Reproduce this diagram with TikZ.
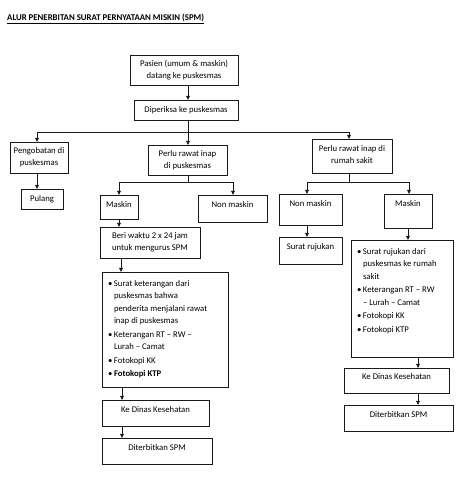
\documentclass[tikz,border=0pt]{standalone}
\usepackage{fontspec}
\setmainfont{Carlito}
\usetikzlibrary{arrows.meta}
\newcommand\mybul{\makebox[6pt][l]{•}}
\newcommand\myind{\hspace*{6pt}}
\newcommand\mkbox[5]{\node[box, minimum width={(#4)-(#2)}, minimum height={(#5)-(#3)}] (#1) at (#2,#3) {};}
\tikzset{
  box/.style={draw=black!90, line width=0.8pt, inner sep=0pt, outer sep=0pt, anchor=north west},
  ln/.style={draw=black!90, line width=0.8pt},
  arr/.style={ln, -{Triangle[length=4.2pt,width=3.8pt]}},
  txt/.style={inner sep=0pt, outer sep=0pt, font=\fontsize{8.7}{12}\selectfont, text=black},
  lst/.style={txt, align=left, anchor=north west, font=\fontsize{8.7}{12.5}\selectfont}
}
\begin{document}
\begin{tikzpicture}[x=1pt,y=-1pt]
\useasboundingbox (0,0) rectangle (474,491);
% title
\node[anchor=base west, inner sep=0pt, font=\bfseries\fontsize{8.8}{10}\selectfont, text=black] (title) at (7,20) {\underline{ALUR PENERBITAN SURAT PERNYATAAN MISKIN (SPM)}};
% boxes
\mkbox{b1}{130}{55}{238}{85}
\mkbox{b2}{134}{100}{238}{120}
\mkbox{b3}{10}{142}{68}{173}
\mkbox{b4}{21}{189}{63}{209}
\mkbox{b5}{148}{145}{227}{175}
\mkbox{b6}{312}{139}{392}{173}
\mkbox{b7}{100}{195}{138}{219}
\mkbox{b8}{198}{195}{267}{222}
\mkbox{b9}{279}{194}{342}{225}
\mkbox{b10}{384}{194}{432}{228}
\mkbox{b11}{100}{227}{200}{258}
\mkbox{b12}{279}{237}{342}{264}
\mkbox{b13}{102}{272}{228}{387}
\mkbox{b14}{351}{240}{453}{357}
\mkbox{b15}{102}{400}{209}{426}
\mkbox{b16}{102}{438}{212}{464}
\mkbox{b17}{344}{368}{449}{393}
\mkbox{b18}{344}{405}{453}{431}
% texts
\node[txt, align=center] (t1) at (b1.center) {Pasien (umum \& maskin)\\datang ke puskesmas};
\node[txt, anchor=base] (t2) at ([yshift=-12.5pt]b2.north) {Diperiksa ke puskesmas};
\node[txt, align=center] (t3) at (b3.center) {Pengobatan di\\puskesmas};
\node[txt, anchor=base] (t4) at ([yshift=-12.5pt]b4.north) {Pulang};
\node[txt, align=center] (t5) at (b5.center) {Perlu rawat inap\\di puskesmas};
\node[txt, align=center] (t6) at ([yshift=1.5pt]b6.center) {Perlu rawat inap di\\rumah sakit};
\node[txt, anchor=base] (t7) at ([yshift=-12.5pt]b7.north) {Maskin};
\node[txt, anchor=base] (t8) at ([yshift=-12.5pt]b8.north) {Non maskin};
\node[txt, anchor=base] (t9) at ([yshift=-12.5pt]b9.north) {Non maskin};
\node[txt, anchor=base] (t10) at ([yshift=-12.5pt]b10.north) {Maskin};
\node[txt, align=center] (t11) at (b11.center) {Beri waktu 2 x 24 jam\\untuk mengurus SPM};
\node[txt, anchor=base] (t12) at ([yshift=-12.5pt]b12.north) {Surat rujukan};
\node[lst] (t13) at (108,280) {\mybul Surat keterangan dari\\\myind puskesmas bahwa\\\myind penderita menjalani rawat\\\myind inap di puskesmas\\[1pt]\mybul Keterangan RT – RW –\\\myind Lurah – Camat\\[1pt]\mybul Fotokopi KK\\[1pt]\mybul \textbf{Fotokopi KTP}};
\node[lst] (t14) at (357,248) {\mybul Surat rujukan dari\\\myind puskesmas ke rumah\\\myind sakit\\[1pt]\mybul Keterangan RT – RW\\\myind – Lurah – Camat\\[1pt]\mybul Fotokopi KK\\[1pt]\mybul Fotokopi KTP};
\node[txt, anchor=base] (t15) at ([yshift=-12.5pt]b15.north) {Ke Dinas Kesehatan};
\node[txt, anchor=base] (t16) at ([yshift=-12.5pt]b16.north) {Diterbitkan SPM};
\node[txt, anchor=base] (t17) at ([yshift=-11.5pt]b17.north) {Ke Dinas Kesehatan};
\node[txt, anchor=base] (t18) at ([yshift=-12.5pt]b18.north) {Diterbitkan SPM};
% junctions
\coordinate (j1) at (188,132);
\coordinate (jl) at (37,132);
\coordinate (jr) at (349,132);
\coordinate (j2) at (188,182);
\coordinate (j2l) at (119,182);
\coordinate (j2r) at (233,182);
\coordinate (j3) at (349,182);
\coordinate (j3l) at (307,182);
\coordinate (j3r) at (409,182);
% connectors
\draw[arr] (b1.south -| j1) -- (b2.north -| j1);
\draw[arr] (b2.south -| j1) -- (b5.north -| j1);
\draw[ln] (jl) -- (jr);
\draw[arr] (jl) -- (b3.north -| jl);
\draw[arr] (jr) -- (b6.north -| jr);
\draw[arr] (b3.south -| jl) -- (b4.north -| jl);
\draw[ln] (b5.south -| j2) -- (j2);
\draw[ln] (j2l) -- (j2r);
\draw[arr] (j2l) -- (b7.north -| j2l);
\draw[arr] (j2r) -- (b8.north -| j2r);
\draw[ln] (b6.south -| j3) -- (j3);
\draw[ln] (j3l) -- (j3r);
\draw[arr] (j3l) -- (b9.north -| j3l);
\draw[arr] (j3r) -- (b10.north -| j3r);
\draw[arr] (b7.south -| 119,0) -- (b11.north -| 119,0);
\draw[arr] (b11.south -| 121,0) -- (b13.north -| 121,0);
\draw[arr] (b13.south -| 122,0) -- (b15.north -| 122,0);
\draw[arr] (b15.south -| 122,0) -- (b16.north -| 122,0);
\draw[arr] (b9.south -| 307,0) -- (b12.north -| 307,0);
\draw[arr] (b10.south -| 408,0) -- (b14.north -| 408,0);
\draw[arr] (b14.south -| 418,0) -- (b17.north -| 418,0);
\draw[arr] (b17.south -| 418,0) -- (b18.north -| 418,0);
\end{tikzpicture}
\end{document}
